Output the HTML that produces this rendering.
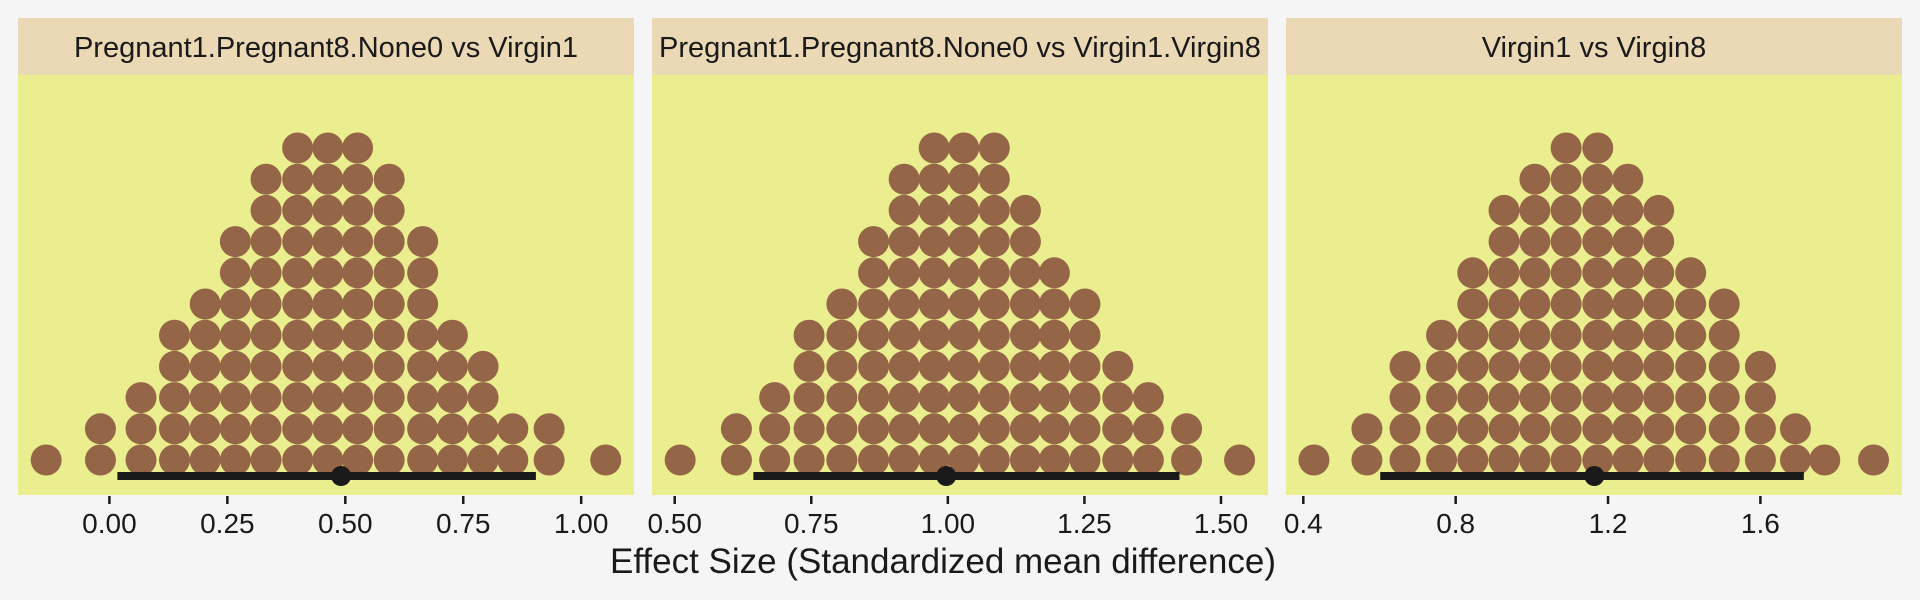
<!DOCTYPE html>
<html><head><meta charset="utf-8"><style>
html,body{margin:0;padding:0;background:#f5f5f5;}
svg{display:block;font-family:"Liberation Sans",sans-serif;}
</style></head><body>
<svg id="chart" width="1920" height="600">
<rect width="1920" height="600" fill="#f5f5f5"/>
<text x="943" y="573" font-size="35" text-anchor="middle" fill="#1a1a1a">Effect Size (Standardized mean difference)</text>
</svg>
<script>
// Panel 1 data
const p1Title = "Pregnant1.Pregnant8.None0 vs Virgin1";
const p1Bins = [-0.134,-0.019,0.067,0.138,0.203,0.267,0.332,0.399,0.463,0.526,0.593,0.664,0.727,0.792,0.855,0.932,1.052];
const p1Counts = [1,2,3,5,6,8,10,11,11,11,10,8,5,4,2,2,1];
const p1Ci = [0.017,0.904];
const p1Est = 0.491;
const p1Ticks = [0,0.25,0.5,0.75,1.0];
const p1TickLabels = ["0.00","0.25","0.50","0.75","1.00"];
// Panel 2 data
const p2Title = "Pregnant1.Pregnant8.None0 vs Virgin1.Virgin8";
const p2Bins = [0.510,0.613,0.683,0.746,0.806,0.864,0.920,0.975,1.029,1.085,1.142,1.195,1.251,1.311,1.367,1.437,1.534];
const p2Counts = [1,2,3,5,6,8,10,11,11,11,9,7,6,4,3,2,1];
const p2Ci = [0.644,1.424];
const p2Est = 0.997;
const p2Ticks = [0.5,0.75,1.0,1.25,1.5];
const p2TickLabels = ["0.50","0.75","1.00","1.25","1.50"];
// Panel 3 data
const p3Title = "Virgin1 vs Virgin8";
const p3Bins = [0.428,0.567,0.667,0.763,0.845,0.927,1.008,1.090,1.173,1.252,1.333,1.417,1.505,1.600,1.692,1.769,1.897];
const p3Counts = [1,2,4,5,7,9,10,11,11,10,9,7,6,4,2,1,1];
const p3Ci = [0.602,1.714];
const p3Est = 1.164;
const p3Ticks = [0.4,0.8,1.2,1.6];
const p3TickLabels = ["0.4","0.8","1.2","1.6"];

const NS = "http://www.w3.org/2000/svg";
const svg = document.getElementById('chart');
function mk(tag, attrs, parent){
  const e = document.createElementNS(NS, tag);
  for (const k in attrs) e.setAttribute(k, attrs[k]);
  (parent||svg).appendChild(e);
  return e;
}
const panels = [
  {title:p1Title,bins:p1Bins,counts:p1Counts,ci:p1Ci,est:p1Est,ticks:p1Ticks,labels:p1TickLabels,x0:18,x1:634,d0:0,p0:109.4,d1:1,p1:581.2},
  {title:p2Title,bins:p2Bins,counts:p2Counts,ci:p2Ci,est:p2Est,ticks:p2Ticks,labels:p2TickLabels,x0:652,x1:1268,d0:0.5,p0:674.7,d1:1.5,p1:1221},
  {title:p3Title,bins:p3Bins,counts:p3Counts,ci:p3Ci,est:p3Est,ticks:p3Ticks,labels:p3TickLabels,x0:1286,x1:1902,d0:0.4,p0:1303.3,d1:1.6,p1:1760.4}
];
const stripTop=18, stripBot=75, plotBot=495, baseY=460, rowStep=31.2, r=15.5;
panels.forEach((p, i) => {
  const xs = v => p.p0 + (v - p.d0) * (p.p1 - p.p0) / (p.d1 - p.d0);
  const g = mk('g', {});
  
  
  const strip = mk('rect', {x:p.x0, y:stripTop, width:p.x1-p.x0, height:stripBot-stripTop, fill:'#ebd9b6'}, g);
  
  
  const st = mk('text', {x:(p.x0+p.x1)/2, y:57, 'font-size':29, 'text-anchor':'middle', fill:'#1a1a1a'}, g);
  st.textContent = p.title;
  
  
  const bg = mk('rect', {x:p.x0, y:stripBot, width:p.x1-p.x0, height:plotBot-stripBot, fill:'#ebee8e'}, g);
  
  
  p.bins.forEach((b, j) => {
    for (let k = 0; k < p.counts[j]; k++) {
      const c = mk('circle', {cx:xs(b), cy:baseY - k*rowStep, r:r, fill:'#946547'}, g);
      
      
    }
  });
  const ci = mk('line', {x1:xs(p.ci[0]), x2:xs(p.ci[1]), y1:476, y2:476, stroke:'#1a1a1a', 'stroke-width':8}, g);
  
  
  const pt = mk('circle', {cx:xs(p.est), cy:476, r:10, fill:'#1a1a1a'}, g);
  
  
  p.ticks.forEach((t, j) => {
    const tk = mk('line', {x1:xs(t), x2:xs(t), y1:496, y2:504, stroke:'#1a1a1a', 'stroke-width':2.5}, g);
    
    
    const tl = mk('text', {x:xs(t), y:533, 'font-size':28, 'text-anchor':'middle', fill:'#1a1a1a'}, g);
    tl.textContent = p.labels[j];
    
    
  });
});
</script>
</body></html>
